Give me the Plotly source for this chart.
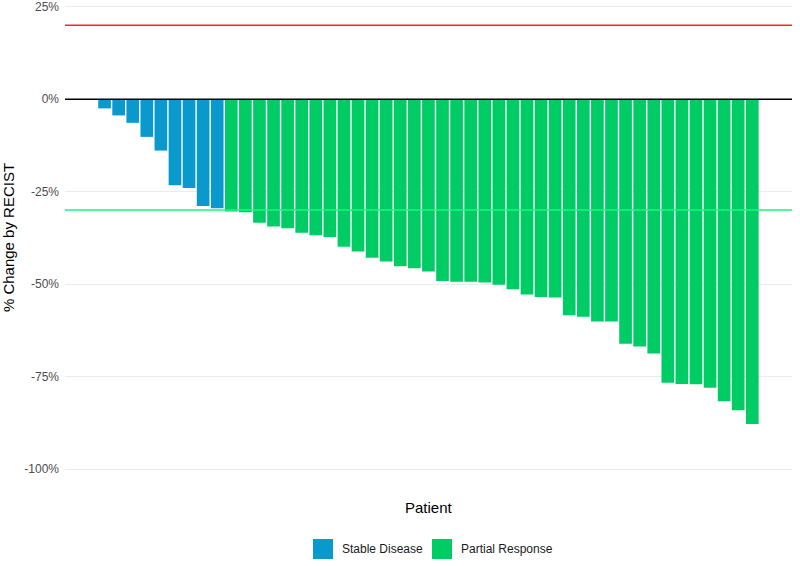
import plotly.graph_objects as go

# % change by RECIST per patient, sorted
stable_disease = [-2.5, -4.4, -6.4, -10.2, -13.9, -23.3, -24.0, -28.9, -29.5]
partial_response = [-30.4, -30.6, -33.4, -34.4, -34.9, -36.1, -36.8, -37.3, -39.9, -41.2,
                    -42.9, -43.9, -45.2, -45.7, -46.6, -49.2, -49.4, -49.4, -49.6, -50.2,
                    -51.4, -52.8, -53.5, -53.6, -58.4, -58.8, -60.1, -60.1, -66.1, -66.9,
                    -68.8, -76.7, -77.0, -77.1, -78.0, -81.7, -84.1, -87.8]
y_ticks = [-100, -75, -50, -25, 0, 25]
y_ticktext = ["-100%", "-75%", "-50%", "-25%", "0%", "25%"]
ref_lines = [(20, "#F8261F"), (0, "black"), (-30, "#1EF57F")]

blue = "#0A99CC"
green = "#00CC66"

n_sd = len(stable_disease)
x_sd = list(range(1, n_sd + 1))
x_pr = list(range(n_sd + 1, n_sd + len(partial_response) + 1))

fig = go.Figure()
fig.add_trace(go.Bar(x=x_sd, y=stable_disease, name="Stable Disease",
                     marker=dict(color=blue, line=dict(width=0)), showlegend=False))
fig.add_trace(go.Bar(x=x_pr, y=partial_response, name="Partial Response",
                     marker=dict(color=green, line=dict(width=0)), showlegend=False))

for yv, col in ref_lines:
    fig.add_shape(type="line", xref="paper", x0=0, x1=1, y0=yv, y1=yv,
                  line=dict(color=col, width=1.5), layer="above")

# legend drawn by hand (ggplot style: big keys, bottom centre)
L, R, B = 65, 8, 91
W, H = 800 - L - R, 566 - B
def px(x):
    return (x - L) / W
def py(y):
    return (H - y) / H

for x0, col, label in [(313, blue, "Stable Disease"), (432, green, "Partial Response")]:
    fig.add_shape(type="rect", xref="paper", yref="paper",
                  x0=px(x0), x1=px(x0 + 20), y0=py(559), y1=py(539),
                  fillcolor=col, line=dict(width=0))
    fig.add_annotation(xref="paper", yref="paper", x=px(x0 + 27), y=py(549),
                       text=label, showarrow=False, xanchor="left", yanchor="middle",
                       font=dict(size=12, color="#1a1a1a"))

fig.add_annotation(xref="paper", yref="paper", x=0.5, y=py(507), text="Patient",
                   showarrow=False, xanchor="center", yanchor="middle",
                   font=dict(size=15, color="black"))

fig.update_layout(
    width=800, height=566,
    margin=dict(l=L, r=R, t=0, b=B),
    plot_bgcolor="white", paper_bgcolor="white",
    font=dict(family="Liberation Sans, Arial, sans-serif"),
    bargap=0.1,
    xaxis=dict(range=[-1.81, 49.82], showticklabels=False, showgrid=False,
               zeroline=False, showline=False, automargin=False),
    yaxis=dict(range=[-101.62, 26.81], tickvals=y_ticks, ticktext=y_ticktext,
               showgrid=True, gridcolor="#EBEBEB", gridwidth=1, zeroline=False,
               automargin=False, ticklabeloverflow="allow",
               tickfont=dict(size=12, color="#4D4D4D"), ticklabelstandoff=5,
               title=dict(text="% Change by RECIST", font=dict(size=15, color="black"),
                          standoff=8)),
)

# drop the default 8px page margin so the figure sits at the window corner
fig.write_html("out.html", config={"displayModeBar": False},
               post_script="document.body.style.margin='0';")
